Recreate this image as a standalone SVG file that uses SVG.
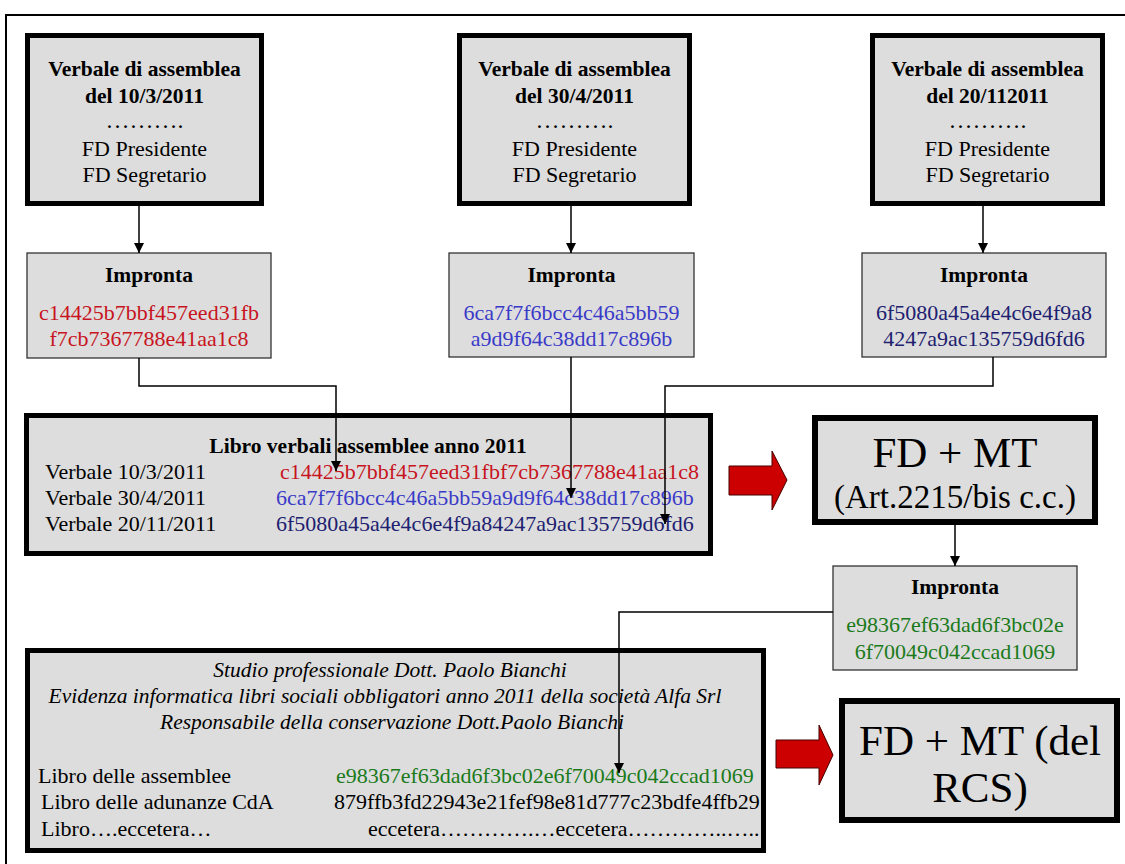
<svg xmlns="http://www.w3.org/2000/svg" width="1125" height="864" viewBox="0 0 1125 864">
<style>
text{font-family:"Liberation Serif","Times New Roman",serif;font-size:22px;fill:#000}
.b{font-weight:bold;font-size:21.5px}
.c{text-anchor:middle}
.i{font-style:italic;font-size:21.5px}
.thick{fill:#DDDDDD;stroke:#000;stroke-width:5}
.thin{fill:#DDDDDD;stroke:#333;stroke-width:1.3}
.red{fill:#C8141E}
.blue{fill:#3A3AC8}
.navy{fill:#202070}
.green{fill:#1A7A1A}
.con{fill:none;stroke:#000;stroke-width:1.5}
.bigarrow{fill:#CC0000;stroke:#400;stroke-width:1}
</style>
<defs>
<marker id="ah" viewBox="0 0 10 10" refX="10" refY="5" markerWidth="10" markerHeight="10" markerUnits="userSpaceOnUse" orient="auto">
<path d="M0,0 L10,5 L0,10 z" fill="#000"/>
</marker>
</defs>
<rect x="6" y="15" width="1300" height="1000" fill="none" stroke="#000" stroke-width="2"/>

<g id="verbale1">
<rect class="thick" x="27.5" y="35.5" width="234" height="168"/>
<text class="b c" x="144.5" y="76">Verbale di assemblea</text>
<text class="b c" x="144.5" y="103">del 10/3/2011</text>
<text class="c" x="144.5" y="128" style="font-size:24px">……….</text>
<text class="c" x="144.5" y="156">FD Presidente</text>
<text class="c" x="144.5" y="182">FD Segretario</text>
</g>
<g id="verbale2">
<rect class="thick" x="459.5" y="35.5" width="230" height="168"/>
<text class="b c" x="574.5" y="76">Verbale di assemblea</text>
<text class="b c" x="574.5" y="103">del 30/4/2011</text>
<text class="c" x="574.5" y="128" style="font-size:24px">……….</text>
<text class="c" x="574.5" y="156">FD Presidente</text>
<text class="c" x="574.5" y="182">FD Segretario</text>
</g>
<g id="verbale3">
<rect class="thick" x="872.5" y="35.5" width="230" height="168"/>
<text class="b c" x="987.5" y="76">Verbale di assemblea</text>
<text class="b c" x="987.5" y="103">del 20/112011</text>
<text class="c" x="987.5" y="128" style="font-size:24px">……….</text>
<text class="c" x="987.5" y="156">FD Presidente</text>
<text class="c" x="987.5" y="182">FD Segretario</text>
</g>

<g id="impronta1">
<rect class="thin" x="27" y="253" width="244" height="105"/>
<text class="b c" x="149" y="282">Impronta</text>
<text class="c red" x="149" y="320">c14425b7bbf457eed31fb</text>
<text class="c red" x="149" y="346">f7cb7367788e41aa1c8</text>
</g>
<g id="impronta2">
<rect class="thin" x="449" y="253" width="245" height="104"/>
<text class="b c" x="571.5" y="282">Impronta</text>
<text class="c blue" x="571.5" y="320">6ca7f7f6bcc4c46a5bb59</text>
<text class="c blue" x="571.5" y="346">a9d9f64c38dd17c896b</text>
</g>
<g id="impronta3">
<rect class="thin" x="862" y="253" width="244" height="104"/>
<text class="b c" x="984" y="282">Impronta</text>
<text class="c navy" x="984" y="320">6f5080a45a4e4c6e4f9a8</text>
<text class="c navy" x="984" y="346">4247a9ac135759d6fd6</text>
</g>

<g id="libro">
<rect class="thick" x="26.5" y="415.5" width="684" height="138"/>
<text class="b c" x="368" y="453">Libro verbali assemblee anno 2011</text>
<text x="45" y="479">Verbale 10/3/2011</text>
<text x="45" y="505">Verbale 30/4/2011</text>
<text x="45" y="531">Verbale 20/11/2011</text>
<text class="red" x="280" y="479">c14425b7bbf457eed31fbf7cb7367788e41aa1c8</text>
<text class="blue" x="276" y="505">6ca7f7f6bcc4c46a5bb59a9d9f64c38dd17c896b</text>
<text class="navy" x="276" y="531">6f5080a45a4e4c6e4f9a84247a9ac135759d6fd6</text>
</g>

<g id="fdmt1">
<rect class="thick" x="815" y="418" width="280" height="104" style="stroke-width:6"/>
<text class="c" x="955" y="467" style="font-size:43px">FD + MT</text>
<text class="c" x="955" y="508" style="font-size:33px">(Art.2215/bis c.c.)</text>
</g>

<g id="impronta4">
<rect class="thin" x="833" y="566" width="244" height="104"/>
<text class="b c" x="955" y="594">Impronta</text>
<text class="c green" x="955" y="632">e98367ef63dad6f3bc02e</text>
<text class="c green" x="955" y="659">6f70049c042ccad1069</text>
</g>

<g id="studio">
<rect class="thick" x="27.5" y="650.5" width="736" height="200"/>
<text class="c i" x="390" y="677">Studio professionale Dott. Paolo Bianchi</text>
<text class="c i" x="385" y="703">Evidenza informatica libri sociali obbligatori anno 2011 della società Alfa Srl</text>
<text class="c i" x="392" y="729">Responsabile della conservazione Dott.Paolo Bianchi</text>
<text x="38" y="783">Libro delle assemblee</text>
<text x="41" y="809">Libro delle adunanze CdA</text>
<text x="41" y="836">Libro….eccetera…</text>
<text class="green" x="336" y="783">e98367ef63dad6f3bc02e6f70049c042ccad1069</text>
<text x="334" y="809">879ffb3fd22943e21fef98e81d777c23bdfe4ffb29</text>
<text x="368" y="836">eccetera………….…eccetera…………..…..</text>
</g>

<g id="fdmt2">
<rect class="thick" x="842" y="701" width="275" height="119" style="stroke-width:6"/>
<text class="c" x="980" y="755" style="font-size:43px">FD + MT (del</text>
<text class="c" x="980" y="802" style="font-size:43px">RCS)</text>
</g>

<g id="connectors">
<path class="con" d="M139,206 V253" marker-end="url(#ah)"/>
<path class="con" d="M571,206 V253" marker-end="url(#ah)"/>
<path class="con" d="M983,206 V253" marker-end="url(#ah)"/>
<path class="con" d="M139,358 V386 H336 V471" marker-end="url(#ah)"/>
<path class="con" d="M571,357 V498" marker-end="url(#ah)"/>
<path class="con" d="M993,357 V386 H665 V524" marker-end="url(#ah)"/>
<path class="con" d="M955,525 V566" marker-end="url(#ah)"/>
<path class="con" d="M833,612 H619 V773" marker-end="url(#ah)"/>
<path class="bigarrow" d="M729,466 H772 V451 L787,480 L772,510 V495 H729 Z"/>
<path class="bigarrow" d="M776,740 H819 V725 L833,755 L819,785 V768 H776 Z"/>
</g>
</svg>
